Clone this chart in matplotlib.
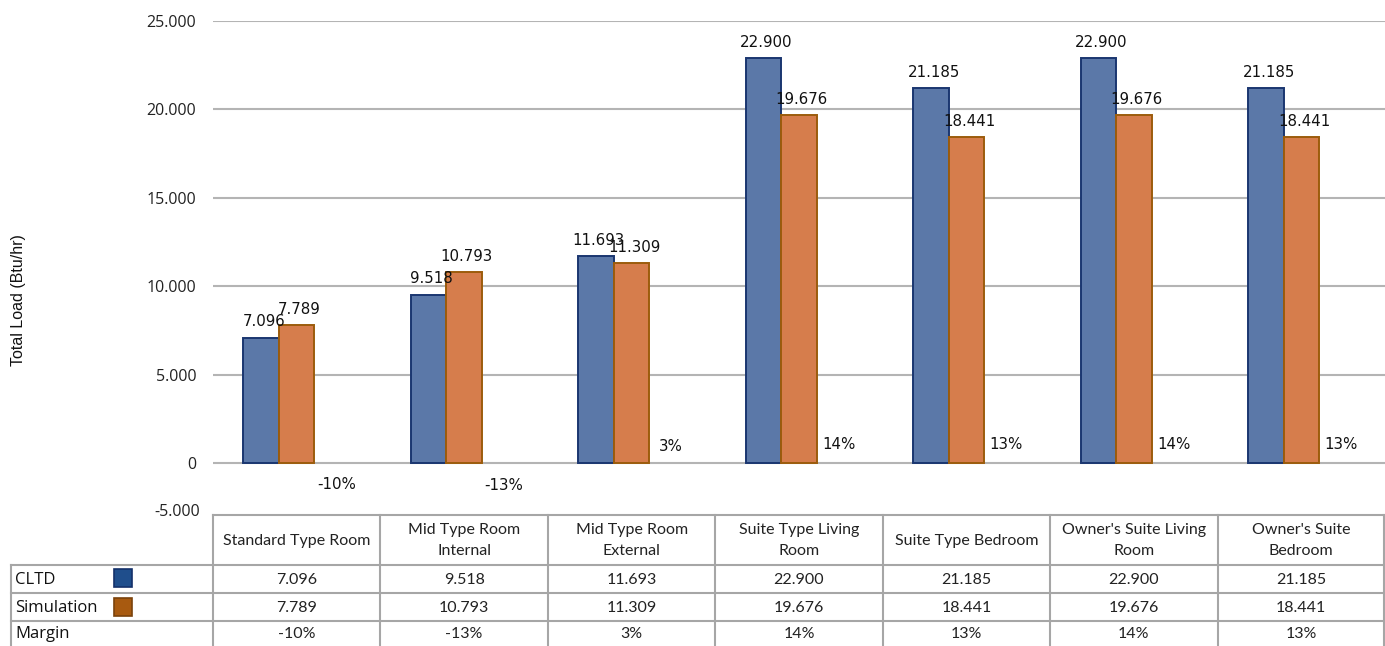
import matplotlib
matplotlib.use("Agg")
import matplotlib.pyplot as plt
from matplotlib.patches import Rectangle
import numpy as np

categories = ["Standard Type Room", "Mid Type Room\nInternal", "Mid Type Room\nExternal",
              "Suite Type Living\nRoom", "Suite Type Bedroom", "Owner's Suite Living\nRoom",
              "Owner's Suite\nBedroom"]
cltd = [7.096, 9.518, 11.693, 22.900, 21.185, 22.900, 21.185]
simulation = [7.789, 10.793, 11.309, 19.676, 18.441, 19.676, 18.441]
margin = [-0.10, -0.13, 0.03, 0.14, 0.13, 0.14, 0.13]
yticks = [0, 5, 10, 15, 20, 25]
ytick_labels = ["0", "5.000", "10.000", "15.000", "20.000", "25.000"]

W, H = 1385, 646
fig = plt.figure(figsize=(W / 100, H / 100), dpi=100)

# main axes in pixel geometry
x0, x1 = 213, 1385
ytop, ybot = 21, 515
ax = fig.add_axes([x0 / W, 1 - ybot / H, (x1 - x0) / W, (ybot - ytop) / H])
n = len(categories)
ax.set_xlim(0, n)
ymin = -(ybot - 463) / ((463 - ytop) / 25.0)
ax.set_ylim(ymin, 25)
for s in ax.spines.values():
    s.set_visible(False)
ax.set_xticks([])
ax.set_yticks(yticks)
ax.set_yticklabels(ytick_labels, fontfamily="Open Sans", fontsize=11.5, color="#222222")
ax.tick_params(axis="y", length=0, pad=12)
for t in yticks:
    ax.axhline(t, color="#B4B4B4", lw=1.5, zorder=0)

centers = np.arange(n) + 0.5
bw = 35.5 / 167.43
blue_face, blue_edge = "#5B78A8", "#1A3670"
orange_face, orange_edge = "#D67D4C", "#9C5C0C"

b1 = ax.bar(centers - bw, cltd, width=bw, color=blue_face, edgecolor=blue_edge, lw=1.4, zorder=2)
b2 = ax.bar(centers, simulation, width=bw, color=orange_face, edgecolor=orange_edge, lw=1.4, zorder=2)
b3 = ax.bar(centers + bw, margin, width=bw, color="none", edgecolor="none", zorder=2)

lab_font = dict(fontfamily="DejaVu Sans", fontsize=10.8, color="#111111")
for x, v in zip(centers - bw, cltd):
    ax.annotate(f"{v:.3f}", (x, v), xytext=(2, 6), textcoords="offset points",
                ha="center", va="bottom", **lab_font)
for x, v in zip(centers, simulation):
    ax.annotate(f"{v:.3f}", (x, v), xytext=(2, 6), textcoords="offset points",
                ha="center", va="bottom", **lab_font)
for x, v in zip(centers + bw, margin):
    if v >= 0:
        ax.annotate(f"{v*100:.0f}%", (x, v), xytext=(3, 6), textcoords="offset points",
                    ha="center", va="bottom", **lab_font)
    else:
        ax.annotate(f"{v*100:.0f}%", (x, v), xytext=(3, -9), textcoords="offset points",
                    ha="center", va="top", **lab_font)

# y axis label
fig.text(19 / W, 1 - 300 / H, "Total Load (Btu/hr)", rotation=90, ha="center", va="center",
         fontfamily="Liberation Sans", fontsize=11.5, color="#111111")
fig.text(200 / W, 1 - 512 / H, "-5.000", ha="right", va="center",
         fontfamily="Open Sans", fontsize=11.5, color="#222222")

# data table overlay axes in pixel coordinates
tax = fig.add_axes([0, 0, 1, 1], facecolor="none")
tax.set_xlim(0, W)
tax.set_ylim(H, 0)
tax.axis("off")
lc = "#A6A6A6"
colw = (x1 - x0) / n
row_y = [515, 565, 593, 621, 646]
# horizontal lines
tax.plot([x0, W], [row_y[0], row_y[0]], color=lc, lw=1.5)
for y in row_y[1:4]:
    tax.plot([11, W], [y, y], color=lc, lw=1.5)
tax.plot([11, 11], [row_y[1], H], color=lc, lw=1.5)
for i in range(n + 1):
    xv = x0 + i * colw
    if i == n:
        xv = W - 1
    tax.plot([xv, xv], [row_y[0], H], color=lc, lw=1.5)

tfont = dict(fontfamily="Lato", fontsize=11.5, color="#222222")
for i, c in enumerate(categories):
    cx = x0 + (i + 0.5) * colw
    tax.text(cx, (row_y[0] + row_y[1]) / 2 + 0.5, c, ha="center", va="center",
             linespacing=1.6, **tfont)
    tax.text(cx, (row_y[1] + row_y[2]) / 2 + 1, f"{cltd[i]:.3f}", ha="center", va="center", **tfont)
    tax.text(cx, (row_y[2] + row_y[3]) / 2 + 1, f"{simulation[i]:.3f}", ha="center", va="center", **tfont)
    tax.text(cx, (row_y[3] + row_y[4]) / 2 + 1, f"{margin[i]*100:.0f}%", ha="center", va="center", **tfont)

rfont = dict(fontfamily="Open Sans", fontsize=12, color="#111111")
tax.text(15, (row_y[1] + row_y[2]) / 2 + 1, "CLTD", ha="left", va="center", **rfont)
tax.text(15, (row_y[2] + row_y[3]) / 2 + 1, "Simulation", ha="left", va="center", **rfont)
tax.text(15, (row_y[3] + row_y[4]) / 2 + 1, "Margin", ha="left", va="center", **rfont)
tax.add_patch(Rectangle((114, 569), 18, 18, facecolor="#1F4E8C", edgecolor="#14306A", lw=1.2))
tax.add_patch(Rectangle((114, 598), 18, 18, facecolor="#A85A10", edgecolor="#7A420C", lw=1.2))

fig.savefig("out.png", dpi=100)
